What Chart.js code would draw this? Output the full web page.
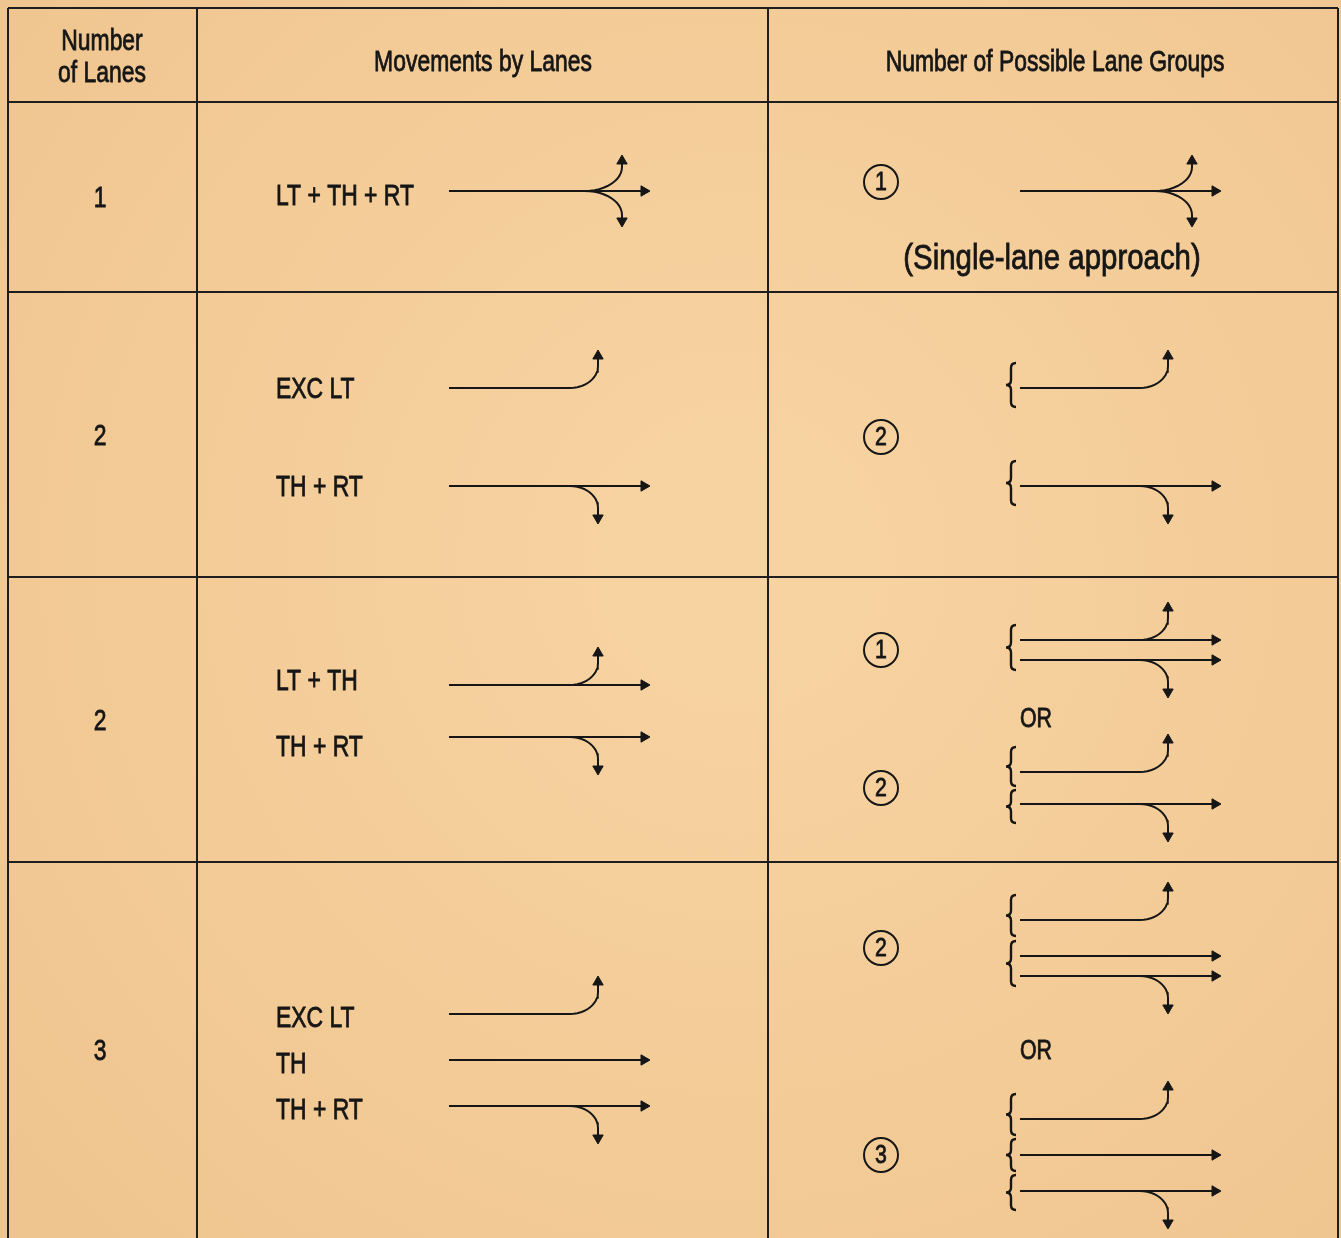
<!DOCTYPE html>
<html>
<head>
<meta charset="utf-8">
<script src="https://cdn.jsdelivr.net/npm/chart.js@4.4.0/dist/chart.umd.min.js"></script>
<style>
  html, body { margin: 0; padding: 0; background: #f4cd98; }
  canvas { display: block; }
</style>
</head>
<body>
<canvas id="myChart" width="1341" height="1238"></canvas>
<script>
// ---- table content ----
var headers = [['Number', 'of Lanes'], ['Movements by Lanes'], ['Number of Possible Lane Groups']];
var laneCounts = ['1', '2', '2', '3'];
var movementLabels = [
  ['LT + TH + RT'],
  ['EXC LT', 'TH + RT'],
  ['LT + TH', 'TH + RT'],
  ['EXC LT', 'TH', 'TH + RT']
];
var movementTypes = [
  ['LTR'],
  ['L', 'TR'],
  ['LT', 'TR'],
  ['L', 'T', 'TR']
];
// options -> groups -> lane movements
var groupOptions = [
  [[['LTR']]],
  [[['L'], ['TR']]],
  [[['LT', 'TR']], [['L'], ['TR']]],
  [[['L'], ['T', 'TR']], [['L'], ['T'], ['TR']]]
];
var singleLaneNote = '(Single-lane approach)';
var orLabel = 'OR';

// ---- layout (pixels in the 1341 x 1238 frame) ----
var W = 1341, H = 1238;
var colX = [8, 197, 768, 1338];
var rowY = [8, 102, 292, 577, 862, 1238];
var mv = { x0: 449, xEnd: 650, xTurn: 598 };
var lg = { x0: 1020, xEnd: 1221, xTurn: 1168 };
var laneStart = [[191, 0], [388, 98], [685, 52], [1014, 46]];
var labelStart = [[195, 0], [388, 98], [680, 66], [1017, 46]];
var optionStart = [[191], [388], [640, 772], [920, 1119]];
var groupGap = [0, 98, 32, 36];
var laneGap = 20;
var ink = '#161616';

function laneArrows(type, y, g, big) {
  var out = [];
  var rx = big ? 37 : 28, ry = big ? 24 : 22, rise = big ? 36 : 38;
  var hasT = type.indexOf('T') >= 0;
  if (hasT) out.push({ pts: [[g.x0, y], [g.xEnd - 6, y]], rot: 90 });
  ['L', 'R'].forEach(function (turn) {
    if (type.indexOf(turn) < 0) return;
    var dir = turn === 'L' ? -1 : 1;
    var xt = big ? g.xTurn + 24 : g.xTurn;
    var xs = xt - rx;
    var pts = hasT ? [] : [[g.x0, y]];
    for (var k = 0; k <= 12; k++) {
      var a = k / 12 * Math.PI / 2;
      pts.push([xs + rx * Math.sin(a), y + dir * ry * (1 - Math.cos(a))]);
    }
    pts.push([xt, y + dir * (rise - 6)]);
    out.push({ pts: pts, rot: turn === 'L' ? 0 : 180 });
  });
  return out;
}

function optionLanes(r, o) {
  var y = optionStart[r][o], res = [];
  groupOptions[r][o].forEach(function (grp, gi) {
    if (gi > 0) y += groupGap[r];
    var ys = [];
    grp.forEach(function (t, li) { if (li > 0) y += laneGap; ys.push(y); });
    res.push({ types: grp, ys: ys });
  });
  return res;
}

// build datasets
var arrows = [];
movementTypes.forEach(function (types, r) {
  types.forEach(function (t, i) {
    var y = laneStart[r][0] + i * laneStart[r][1];
    arrows = arrows.concat(laneArrows(t, y, mv, t === 'LTR'));
  });
  groupOptions[r].forEach(function (opt, o) {
    optionLanes(r, o).forEach(function (grp) {
      grp.types.forEach(function (t, li) {
        arrows = arrows.concat(laneArrows(t, grp.ys[li], lg, t === 'LTR'));
      });
    });
  });
});

var datasets = arrows.map(function (a) {
  var last = a.pts.length - 1;
  return {
    data: a.pts.map(function (p) { return { x: p[0], y: p[1] }; }),
    showLine: true,
    borderColor: ink,
    borderWidth: 2,
    tension: 0,
    pointStyle: 'triangle',
    pointRotation: a.rot,
    pointRadius: function (c) { return c.dataIndex === last ? 6 : 0; },
    pointBackgroundColor: ink,
    pointBorderColor: ink,
    pointBorderWidth: 1,
    clip: false
  };
});

function txt(ctx, s, x, y, size, align, sx) {
  ctx.save();
  ctx.font = size + 'px "Liberation Sans", Arial, sans-serif';
  ctx.fillStyle = ink;
  ctx.strokeStyle = ink;
  ctx.lineWidth = 0.8;
  ctx.textAlign = align;
  ctx.textBaseline = 'middle';
  ctx.translate(x, y + 2);
  ctx.scale(sx || 0.79, 1);
  ctx.fillText(s, 0, 0);
  ctx.strokeText(s, 0, 0);
  ctx.restore();
}

function brace(ctx, x, top, bot) {
  var m = (top + bot) / 2, w = 5;
  ctx.beginPath();
  ctx.moveTo(x + w, top);
  ctx.quadraticCurveTo(x, top, x, top + 5);
  ctx.lineTo(x, m - 5);
  ctx.quadraticCurveTo(x, m, x - w, m);
  ctx.quadraticCurveTo(x, m, x, m + 5);
  ctx.lineTo(x, bot - 5);
  ctx.quadraticCurveTo(x, bot, x + w, bot);
  ctx.stroke();
}

var tablePlugin = {
  id: 'table',
  beforeDraw: function (c) {
    var ctx = c.ctx;
    var g = ctx.createRadialGradient(W * 0.55, H * 0.45, 100, W * 0.55, H * 0.45, 950);
    g.addColorStop(0, '#f7d3a1');
    g.addColorStop(1, '#efc58f');
    ctx.save();
    ctx.fillStyle = g;
    ctx.fillRect(0, 0, W, H);
    ctx.restore();
  },
  beforeDatasetsDraw: function (c) {
    var ctx = c.ctx, sx = c.scales.x, sy = c.scales.y;
    ctx.save();
    ctx.strokeStyle = '#1e1e1e';
    ctx.lineWidth = 2;
    ctx.beginPath();
    colX.forEach(function (x) {
      ctx.moveTo(sx.getPixelForValue(x), sy.getPixelForValue(rowY[0]));
      ctx.lineTo(sx.getPixelForValue(x), sy.getPixelForValue(H));
    });
    rowY.slice(0, -1).forEach(function (y) {
      ctx.moveTo(sx.getPixelForValue(colX[0]), sy.getPixelForValue(y));
      ctx.lineTo(sx.getPixelForValue(colX[3]), sy.getPixelForValue(y));
    });
    ctx.stroke();
    ctx.restore();
  },
  afterDatasetsDraw: function (c) {
    var ctx = c.ctx, sx = c.scales.x, sy = c.scales.y;
    var X = function (v) { return sx.getPixelForValue(v); };
    var Y = function (v) { return sy.getPixelForValue(v); };

    // headers
    txt(ctx, headers[0][0], X(102), Y(40), 29, 'center');
    txt(ctx, headers[0][1], X(102), Y(72), 29, 'center');
    txt(ctx, headers[1][0], X(483), Y(61), 29, 'center');
    txt(ctx, headers[2][0], X(1055), Y(61), 29, 'center');

    laneCounts.forEach(function (n, r) {
      txt(ctx, n, X(100), Y((rowY[r + 1] + rowY[r + 2]) / 2), 29, 'center');
      movementLabels[r].forEach(function (s, i) {
        txt(ctx, s, X(276), Y(labelStart[r][0] + i * labelStart[r][1]), 29, 'left');
      });

      var prevEnd = null;
      groupOptions[r].forEach(function (opt, o) {
        var lanes = optionLanes(r, o);
        var first = lanes[0].ys[0];
        var lastG = lanes[lanes.length - 1];
        var lastY = lastG.ys[lastG.ys.length - 1];
        var cy = (first + lastY) / 2 + (n === '1' ? -9 : 0);

        // circled count
        ctx.save();
        ctx.strokeStyle = ink;
        ctx.lineWidth = 2;
        ctx.beginPath();
        ctx.arc(X(881), Y(cy), 17, 0, Math.PI * 2);
        ctx.stroke();
        ctx.restore();
        txt(ctx, String(opt.length), X(881), Y(cy - 1), 26, 'center', 0.82);

        if (prevEnd !== null) txt(ctx, orLabel, X(1036), Y((prevEnd + first) / 2 + 2), 27, 'center');
        prevEnd = lastY;

        // braces
        var total = lanes.reduce(function (s, g) { return s + g.ys.length; }, 0);
        if (total > 1) {
          ctx.save();
          ctx.strokeStyle = ink;
          ctx.lineWidth = 2.4;
          lanes.forEach(function (g, gi) {
            var a = g.ys[0], b = g.ys[g.ys.length - 1];
            var top = g.ys.length > 1 ? a - 15 : a - 25;
            var bot = g.ys.length > 1 ? b + 10 : b + 19;
            if (gi > 0) {
              var p = lanes[gi - 1].ys;
              top = Math.max(top, (p[p.length - 1] + a) / 2 + 2);
            }
            if (gi < lanes.length - 1) {
              bot = Math.min(bot, (b + lanes[gi + 1].ys[0]) / 2 - 2);
            }
            brace(ctx, X(1011), Y(top), Y(bot));
          });
          ctx.restore();
        }
        if (n === '1') txt(ctx, singleLaneNote, X(1052), Y(lastY + 66), 35, 'center', 0.84);
      });
    });
  }
};

new Chart(document.getElementById('myChart'), {
  type: 'scatter',
  data: { datasets: datasets },
  options: {
    responsive: false,
    animation: false,
    events: [],
    layout: { padding: 0, autoPadding: false },
    plugins: { legend: { display: false }, tooltip: { enabled: false } },
    scales: {
      x: { type: 'linear', min: 0, max: W, display: false },
      y: { type: 'linear', min: 0, max: H, reverse: true, display: false }
    }
  },
  plugins: [tablePlugin]
});
</script>
</body>
</html>
